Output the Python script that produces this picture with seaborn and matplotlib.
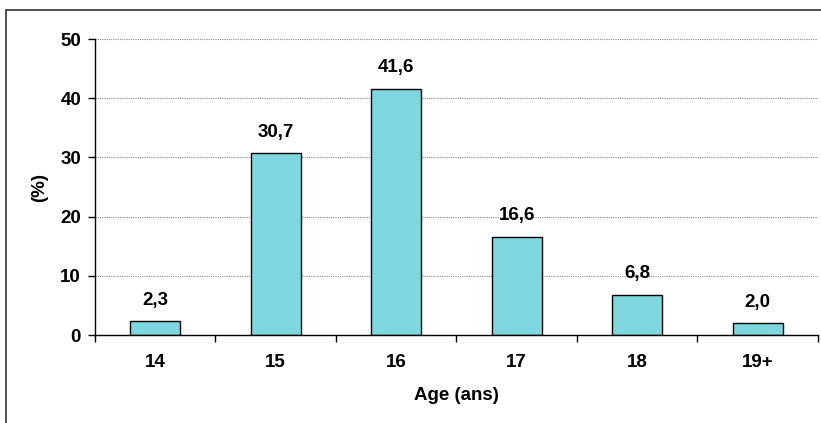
import matplotlib
matplotlib.use("Agg")
import matplotlib.pyplot as plt
import seaborn as sns
import pandas as pd
from matplotlib.patches import Rectangle

ages = ["14", "15", "16", "17", "18", "19+"]
percent = [2.3, 30.7, 41.6, 16.6, 6.8, 2.0]
value_labels = ["2,3", "30,7", "41,6", "16,6", "6,8", "2,0"]
y_ticks = [0, 10, 20, 30, 40, 50]

df = pd.DataFrame({"age": ages, "pct": percent})

sns.set_theme(style="white")
plt.rcParams['font.family'] = ['Liberation Sans', 'DejaVu Sans']
plt.rcParams['text.color'] = 'black'
plt.rcParams['axes.labelcolor'] = 'black'
plt.rcParams['xtick.color'] = 'black'
plt.rcParams['ytick.color'] = 'black'

FS = 13.5

fig = plt.figure(figsize=(8.21, 4.23), dpi=100)
ax = fig.add_axes([0.1157, 0.208, 0.8806, 0.6998])

sns.barplot(data=df, x="age", y="pct", color="#7ED6DF", edgecolor="black",
            linewidth=1.0, width=0.415, saturation=1, ax=ax)

ax.set_ylim(0, 50)
ax.set_xlim(-0.5, 5.5)
ax.set_yticks(y_ticks)
ax.set_yticklabels([str(t) for t in y_ticks], fontsize=FS, fontweight="bold")
for y in y_ticks[1:]:
    ax.axhline(y, color="#888888", linestyle=(0, (1, 1)), linewidth=0.8, zorder=0)

ax.set_xticks([i - 0.5 for i in range(len(ages) + 1)], minor=False)
ax.set_xticklabels([])
ax.set_xticks(range(len(ages)), minor=True)
ax.set_xticklabels(ages, minor=True, fontsize=FS, fontweight="bold")
ax.tick_params(axis="x", which="minor", length=0, pad=14)
ax.tick_params(axis="x", which="major", length=5, width=1, direction="out", bottom=True, color="black")
ax.tick_params(axis="y", length=5, width=1, direction="out", left=True, color="black", pad=5)

for s in ["top", "right"]:
    ax.spines[s].set_visible(False)
for s in ["left", "bottom"]:
    ax.spines[s].set_color("black")
    ax.spines[s].set_linewidth(1.0)

for i, (v, lab) in enumerate(zip(percent, value_labels)):
    ax.annotate(lab, (i, v), xytext=(0, 9), textcoords="offset points",
                ha="center", va="bottom", fontsize=FS, fontweight="bold")

ax.set_xlabel("Age (ans)", fontsize=FS, fontweight="bold", labelpad=11)
ax.set_ylabel("(%)", fontsize=FS, fontweight="bold", labelpad=9)

fig.patches.append(Rectangle((6 / 821, -0.1), 2.0, 1 - 10 / 423 + 0.1,
                             transform=fig.transFigure, fill=False,
                             edgecolor="#333333", linewidth=1.2))

fig.savefig("out.png", dpi=100)
